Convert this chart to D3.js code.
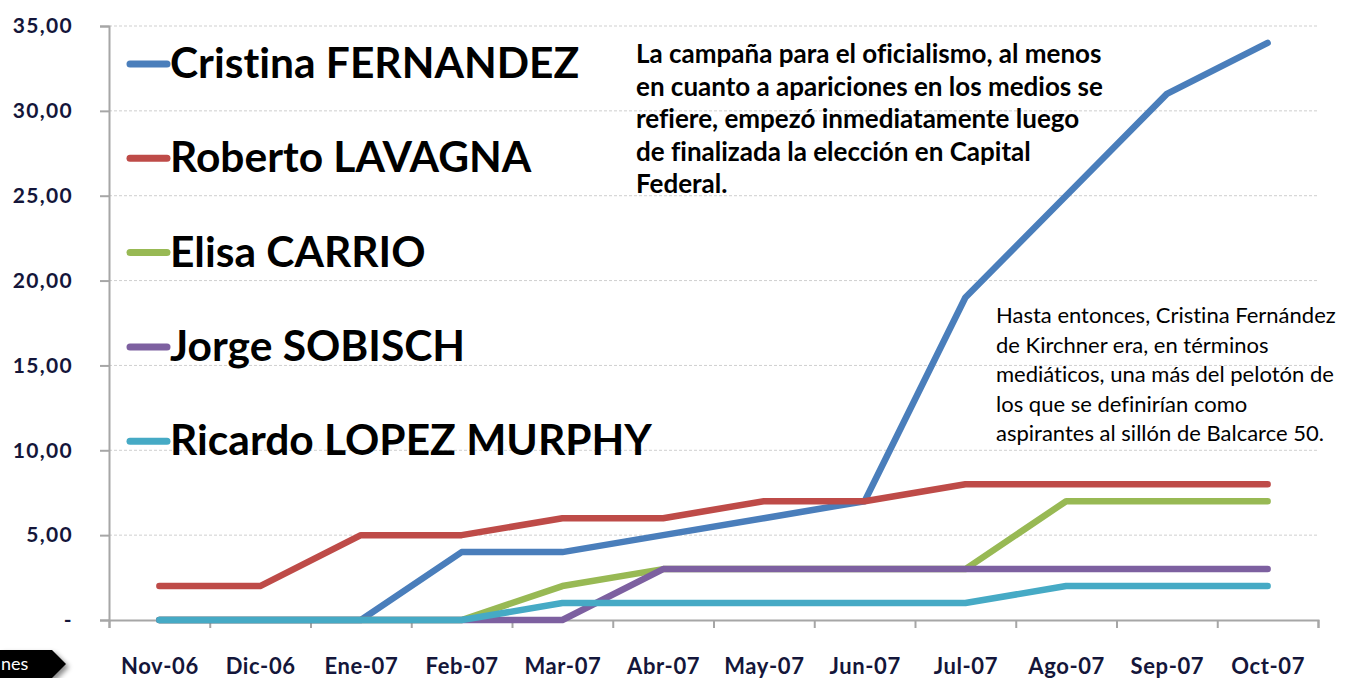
<!DOCTYPE html>
<html lang="es">
<head>
<meta charset="UTF-8">
<title>Apariciones en medios</title>
<script src="https://cdnjs.cloudflare.com/ajax/libs/d3/7.8.5/d3.min.js"></script>
<style>
  html, body { margin: 0; padding: 0; background: #fff; }
  svg { display: block; font-family: Lato, "Open Sans", sans-serif; }
  text { font-variant-ligatures: none; font-feature-settings: "liga" 0, "clig" 0, "dlig" 0, "calt" 0; }
</style>
</head>
<body>
<svg id="chart" width="1345" height="678"></svg>
<script>
// data
const months = ["Nov-06", "Dic-06", "Ene-07", "Feb-07", "Mar-07", "Abr-07",
                "May-07", "Jun-07", "Jul-07", "Ago-07", "Sep-07", "Oct-07"];
const fernandez = [0, 0, 0, 4, 4, 5, 6, 7, 19, 25, 31, 34];
const lavagna   = [2, 2, 5, 5, 6, 6, 7, 7, 8, 8, 8, 8];
const carrio    = [0, 0, 0, 0, 2, 3, 3, 3, 3, 7, 7, 7];
const sobisch   = [0, 0, 0, 0, 0, 3, 3, 3, 3, 3, 3, 3];
const lopezMurphy = [0, 0, 0, 0, 1, 1, 1, 1, 1, 2, 2, 2];
const seriesNames = ["Cristina FERNANDEZ", "Roberto LAVAGNA", "Elisa CARRIO",
                     "Jorge SOBISCH", "Ricardo LOPEZ MURPHY"];
const seriesColors = ["#4a7ebb", "#be4b48", "#98b954", "#7d60a0", "#46aac5"];
const yTicks = [0, 5, 10, 15, 20, 25, 30, 35];
const note1 = ["La campaña para el oficialismo, al menos",
               "en cuanto a apariciones en los medios se",
               "refiere, empezó inmediatamente luego",
               "de finalizada la elección en Capital",
               "Federal."];
const note2 = ["Hasta entonces, Cristina Fernández",
               "de Kirchner era, en términos",
               "mediáticos, una más del pelotón de",
               "los que se definirían como",
               "aspirantes al sillón de Balcarce 50."];

const series = [fernandez, lavagna, carrio, sobisch, lopezMurphy];

const svg = d3.select("#chart");
const plotLeft = 109, plotRight = 1318, plotTop = 26, plotBottom = 620;
const labelColor = "#14163a";

const x = d3.scalePoint().domain(months).range([plotLeft, plotRight]).padding(0.5);
const xEdges = d3.scaleLinear().domain([0, months.length]).range([plotLeft, plotRight]);
const y = d3.scaleLinear().domain([0, 35]).range([plotBottom, plotTop]);

// gridlines
svg.append("g")
    .selectAll("line")
    .data(yTicks.filter(d => d > 0))
    .enter()
    .append("line")
    .attr("x1", plotLeft).attr("x2", plotRight)
    .attr("y1", d => y(d)).attr("y2", d => y(d))
    .attr("stroke", "#cfcfcf")
    .attr("stroke-width", 1)
    .attr("stroke-dasharray", "3,2");

// y axis
const yAxis = svg.append("g")
    .attr("transform", `translate(${plotLeft},0)`)
    .call(d3.axisLeft(y).tickValues(yTicks).tickSize(9).tickPadding(27)
        .tickFormat(d => d === 0 ? "-" : d3.format(".2f")(d).replace(".", ",")));
yAxis.select(".domain").attr("stroke", "#a6a6a6").attr("stroke-width", 2);
yAxis.selectAll(".tick line").attr("stroke", "#a6a6a6").attr("stroke-width", 2);
yAxis.selectAll(".tick text")
    .attr("font-size", 21).attr("font-weight", "bold").attr("fill", labelColor)
    .attr("letter-spacing", 1.3)
    .attr("font-family", "Lato, sans-serif");

// x axis: tick marks between categories
const xAxis = svg.append("g")
    .attr("transform", `translate(0,${plotBottom})`)
    .call(d3.axisBottom(xEdges).tickValues(d3.range(months.length + 1)).tickSize(8).tickFormat(""));
xAxis.select(".domain").attr("stroke", "#a6a6a6").attr("stroke-width", 2);
xAxis.selectAll(".tick line").attr("stroke", "#a6a6a6").attr("stroke-width", 2);

const xLabels = svg.append("g")
    .attr("transform", `translate(0,${plotBottom})`)
    .call(d3.axisBottom(x).tickSize(0).tickPadding(38));
xLabels.select(".domain").remove();
xLabels.selectAll(".tick text")
    .attr("font-size", 22).attr("font-weight", "bold").attr("fill", labelColor)
    .attr("letter-spacing", 0.6)
    .attr("font-family", "Lato, sans-serif");

// lines
const line = d3.line()
    .x((d, i) => x(months[i]))
    .y(d => y(d));

svg.append("g")
    .selectAll("path")
    .data(series)
    .enter()
    .append("path")
    .attr("d", d => line(d))
    .attr("fill", "none")
    .attr("stroke", (d, i) => seriesColors[i])
    .attr("stroke-width", 6.5)
    .attr("stroke-linejoin", "round")
    .attr("stroke-linecap", "round");

// legend
const legend = svg.append("g")
    .selectAll("g")
    .data(seriesNames)
    .enter()
    .append("g")
    .attr("transform", (d, i) => `translate(130,${64 + i * 94.3})`);
legend.append("line")
    .attr("x1", 0).attr("x2", 37)
    .attr("stroke", (d, i) => seriesColors[i])
    .attr("stroke-width", 7)
    .attr("stroke-linecap", "round");
legend.append("text")
    .attr("x", 40).attr("y", 14)
    .attr("font-size", 42.5).attr("font-weight", "bold").attr("fill", "#000")
    .text(d => d);

// annotations
svg.append("g")
    .selectAll("text")
    .data(note1)
    .enter()
    .append("text")
    .attr("x", 636)
    .attr("y", (d, i) => 63 + i * 32.5)
    .attr("font-size", 26).attr("font-weight", "bold").attr("fill", "#000")
    .text(d => d);

svg.append("g")
    .selectAll("text")
    .data(note2)
    .enter()
    .append("text")
    .attr("x", 996)
    .attr("y", (d, i) => 323 + i * 29.5)
    .attr("font-size", 22).attr("fill", "#000")
    .text(d => d);

// cut-off tag at the bottom left
const defs = svg.append("defs");
const f = defs.append("filter").attr("id", "shadow").attr("x", "-20%").attr("y", "-20%")
    .attr("width", "160%").attr("height", "160%");
f.append("feDropShadow").attr("dx", 3).attr("dy", 3).attr("stdDeviation", 2.5)
    .attr("flood-color", "#000").attr("flood-opacity", 0.45);
svg.append("path")
    .attr("d", d3.line()([[0, 650], [52, 650], [66, 664], [52, 678], [0, 678]]))
    .attr("fill", "#000")
    .attr("filter", "url(#shadow)");
svg.append("text")
    .attr("x", 1).attr("y", 670)
    .attr("font-size", 18).attr("fill", "#fff")
    .attr("font-family", "Lato, sans-serif")
    .text("nes");
</script>
</body>
</html>
